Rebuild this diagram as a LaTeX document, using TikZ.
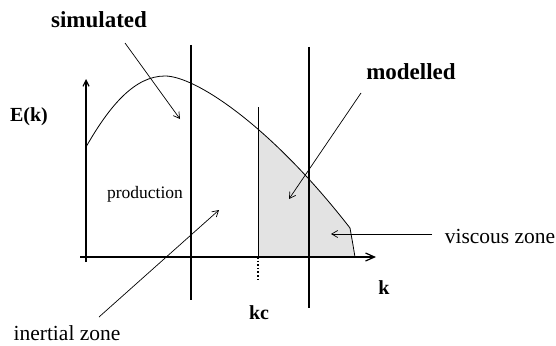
\documentclass[tikz,border=0pt]{standalone}
\usepackage{fontspec}
\setmainfont{Liberation Serif}
\usetikzlibrary{arrows.meta}
\begin{document}
\begin{tikzpicture}[x=1pt,y=-1pt,
  bar/.style={line width=2.6pt},
  axis/.style={line width=1.2pt},
  ptr/.style={line width=0.7pt,-{Straight Barb[length=6pt,width=7pt]}},
  boldlab/.style={font=\fontsize{23}{25}\selectfont\bfseries, inner sep=0pt},
  lab/.style={font=\fontsize{21.5}{23}\selectfont, inner sep=0pt},
  smalllab/.style={font=\fontsize{17.5}{19}\selectfont, inner sep=0pt}]
\useasboundingbox (0,0) rectangle (556,345);
% shaded modelled area
\begin{scope}
  \clip (258,0) rectangle (420,257);
  \fill[gray!22] (86,147) .. controls (110,105) and (135,76) .. (165,76)
     .. controls (195,76) and (270,125) .. (350,228) -- (353,245) -- (355,257) -- (86,257) -- cycle;
\end{scope}
% spectrum curve
\draw[line width=0.8pt] (86,147) .. controls (110,105) and (135,76) .. (165,76)
     .. controls (195,76) and (270,125) .. (350,228) -- (353,245) -- (355,257);
% axes
\coordinate (yb) at (86,262);
\coordinate (yt) at (86,79);
\coordinate (xl) at (80,257);
\coordinate (xr) at (376,257);
\draw[axis,-{Straight Barb[length=6pt,width=6pt]}] (yb) -- (yt);
\draw[axis,-{Straight Barb[length=9pt,width=8pt]}] (xl) -- (xr);
% vertical lines
\coordinate (b1t) at (191,45);
\coordinate (b1b) at (191,300);
\coordinate (b3t) at (309,47);
\coordinate (b3b) at (309,308);
\coordinate (kct) at (258,107);
\coordinate (kcm) at (258,257);
\coordinate (kcb) at (258,279);
\draw[bar] (b1t) -- (b1b);
\draw[bar] (b3t) -- (b3b);
\draw[line width=1pt] (kct) -- (kcm);
\draw[line width=1.6pt, dotted] (kcm) -- (kcb);
% labels
\node[boldlab] (sim) at (99,20) {simulated};
\node[boldlab] (mod) at (411,72) {modelled};
\node[boldlab,font=\fontsize{20}{22}\selectfont\bfseries] (ek) at (29,117) {E(k)};
\node[smalllab] (prod) at (145,194) {production};
\node[lab] (inert) at (67,333) {inertial zone};
\node[lab] (visc) at (500,236) {viscous zone};
\node[boldlab,font=\fontsize{20}{22}\selectfont\bfseries] (k) at (384,288) {k};
\node[boldlab,font=\fontsize{20}{22}\selectfont\bfseries] (kc) at (259,313) {kc};
% pointers
\coordinate (s1) at (125,43);
\coordinate (s2) at (180,119);
\coordinate (m1) at (361,93);
\coordinate (m2) at (289,199);
\coordinate (i1) at (99,317);
\coordinate (i2) at (219,210);
\coordinate (v1) at (432,234);
\coordinate (v2) at (331,234);
\draw[ptr] (s1) -- (s2);
\draw[ptr] (m1) -- (m2);
\draw[ptr] (i1) -- (i2);
\draw[ptr] (v1) -- (v2);
\end{tikzpicture}
\end{document}
